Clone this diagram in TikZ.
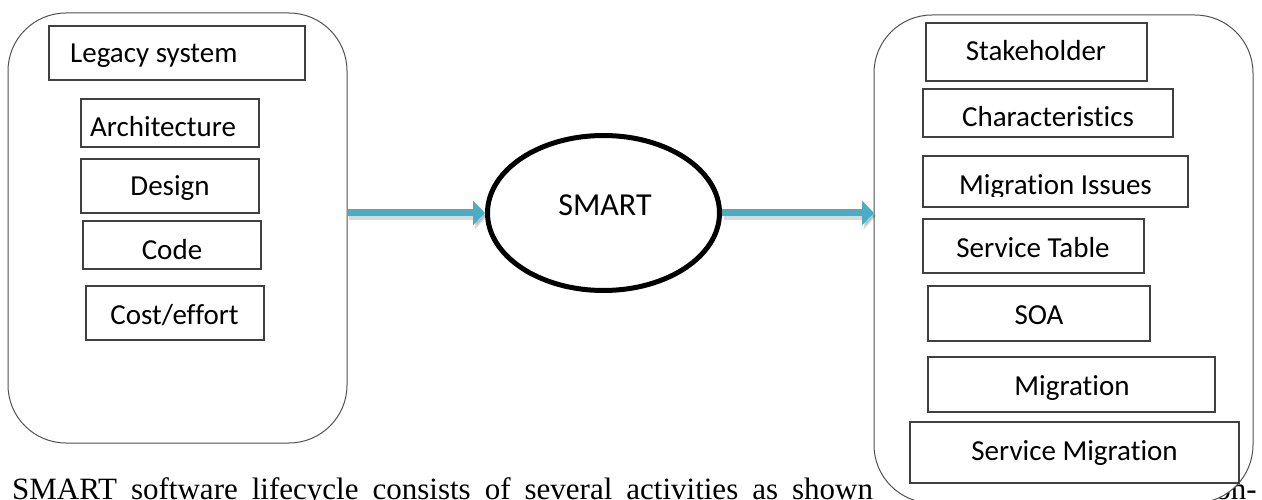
\documentclass[tikz,border=0pt]{standalone}
\usepackage{fontspec}
\setmainfont{Carlito}[Ligatures=NoCommon]
\newfontfamily\serifbody{Liberation Serif}
\usetikzlibrary{arrows.meta,shapes.geometric,fit}
\definecolor{arrowblue}{HTML}{4BACC6}
\definecolor{lineg}{HTML}{404040}
\definecolor{framegray}{HTML}{505050}
\begin{document}
\begin{tikzpicture}[x=1pt,y=-1pt,
  frame/.style={draw=framegray, line width=1pt, rounded corners=58pt, fill=white, inner sep=0pt, outer sep=0pt},
  box/.style={draw=lineg, line width=1.2pt, inner sep=0pt, outer sep=0pt},
  lbl/.style={font=\fontsize{29}{34}\selectfont, inner sep=0pt, anchor=base},
  captionfont/.style={font=\serifbody\fontsize{31}{36}\selectfont, inner sep=0pt},
  flow/.style={arrowblue, line width=7pt, -{Triangle[length=12pt,width=24pt]}},
  flowshadow/.style={black, opacity=0.15, line width=9pt, -{Triangle[length=12pt,width=26pt]}}
]
\useasboundingbox (0,0) rectangle (1262,500);
\clip (0,0) rectangle (1262,500);

% caption text behind the right frame
\node[captionfont, anchor=base west] (caption) at (12,499)
  {\spaceskip=14pt\relax SMART software lifecycle consists of several activities as shown};
\node[captionfont, anchor=base east] (captionend) at (1257,499) {on-};

% frames
\node[frame, fit={(8,13) (347,443)}] (legacyframe) {};
\node[frame, fit={(874,15) (1253,503)}] (targetframe) {};

% left boxes
\node[box, fit={(49,26) (305,80)}] (legacy) {};
\node[lbl, anchor=base west] (legacyt) at (70,63) {Legacy system};
\node[box, fit={(81,99) (259,147)}] (arch) {};
\node[lbl, anchor=base west] (archt) at (90,137) {Architecture};
\node[box, fit={(81,159) (259,213)}] (design) {};
\node[lbl] (designt) at (170,196) {Design};
\node[box, fit={(83,221) (261,269)}] (code) {};
\node[lbl] (codet) at (172,259) {Code};
\node[box, fit={(86,286) (264,340)}] (cost) {};
\node[lbl] (costt) at (174.5,324) {Cost/effort};

% right boxes
\node[box, fit={(926,23) (1147,81)}] (stake) {};
\node[lbl] (staket) at (1036,61) {Stakeholder};
\node[box, fit={(923,89) (1173,137)}] (chars) {};
\node[lbl] (charst) at (1048,127) {Characteristics};
\node[box, fit={(923,156) (1188,207)}] (migiss) {};
\begin{scope}
  \clip (923,156) rectangle (1188,197);
  \node[lbl] (migisst) at (1055.5,194) {Migration Issues};
\end{scope}
\node[box, fit={(923,219) (1144,273)}] (stable) {};
\node[lbl] (stablet) at (1033,257) {Service Table};
\node[box, fit={(928,286) (1150,341)}] (soa) {};
\node[lbl] (soat) at (1039,324) {SOA};
\node[box, fit={(928,357) (1215,412)}] (migr) {};
\node[lbl] (migrt) at (1072,395) {Migration};
\node[box, fit={(910,422) (1239,483)}] (smig) {};
\node[lbl] (smigt) at (1074.5,460) {Service Migration};

% central process
\node[ellipse, draw=black, line width=5pt, fill=white, minimum width=232pt, minimum height=155pt, inner sep=0pt] (smart) at (603.5,213) {};
\node[lbl, font=\fontsize{32}{38}\selectfont] (smartt) at (605,215) {SMART};

% connectors
\coordinate (inStart) at (legacyframe.east |- smart.west);
\coordinate (outEnd) at (targetframe.west |- smart.east);
\draw[flowshadow] ([xshift=2pt,yshift=-3pt]inStart) -- ([xshift=2pt,yshift=-3pt]smart.west);
\draw[flow] (inStart) -- (smart.west);
\draw[flowshadow] ([xshift=2pt,yshift=-3pt]smart.east) -- ([xshift=2pt,yshift=-3pt]outEnd);
\draw[flow] (smart.east) -- (outEnd);
\end{tikzpicture}
\end{document}
